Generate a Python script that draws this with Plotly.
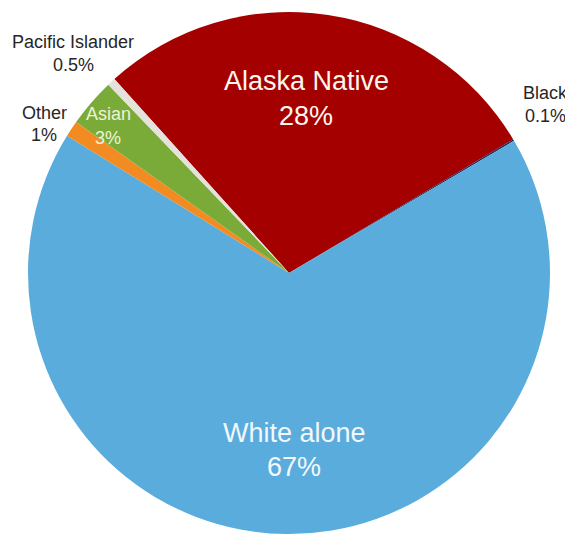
import plotly.graph_objects as go

# Data
labels = ["Alaska Native", "Black", "White alone", "Other", "Asian", "Pacific Islander"]
values = [28, 0.1, 67, 1, 3, 0.5]
colors = ["#a50000", "#1c2a5c", "#5aacdc", "#f28c22", "#7aab38", "#e4e2da"]

# The page body has an 8px margin; size the figure so it fits the window.
OFF = 8
W, H = 573 - OFF, 539 - OFF

fig = go.Figure(go.Pie(
    labels=labels,
    values=values,
    sort=False,
    direction="clockwise",
    rotation=-42,
    marker=dict(colors=colors, line=dict(color="#ffffff", width=0)),
    textinfo="none",
    hoverinfo="label+percent",
    showlegend=False,
    domain=dict(x=[(28 - OFF) / W, (550 - OFF) / W],
                y=[1 - (534 - OFF) / H, 1 - (12 - OFF) / H]),
))

# Label layout in page pixels: (x, y_name, y_pct, font size, color)
label_pos = {
    "Alaska Native": (306, 81, 116, 27, "#fbf6ee"),
    "White alone": (294, 433, 467, 27, "#f2f8fc"),
    "Asian": (108, 114, 138, 18, "#eef3d6"),
    "Other": (44, 113, 135, 18, "#262626"),
    "Pacific Islander": (73, 42, 65, 18, "#262626"),
    "Black": (545, 93, 116, 18, "#262626"),
}

annotations = []
for lab, val in zip(labels, values):
    x, yn, yp, fs, col = label_pos[lab]
    for txt, yy in ((lab, yn), (f"{val:g}%", yp)):
        annotations.append(dict(
            x=(x - OFF) / W, y=1 - (yy - OFF) / H, xref="paper", yref="paper",
            text=txt, showarrow=False, xanchor="center", yanchor="middle",
            font=dict(family="Liberation Sans, Arial, sans-serif", size=fs, color=col),
        ))

fig.update_layout(
    width=W, height=H,
    margin=dict(l=0, r=0, t=0, b=0),
    paper_bgcolor="#ffffff",
    plot_bgcolor="#ffffff",
    annotations=annotations,
)

fig.write_html("out.html")
